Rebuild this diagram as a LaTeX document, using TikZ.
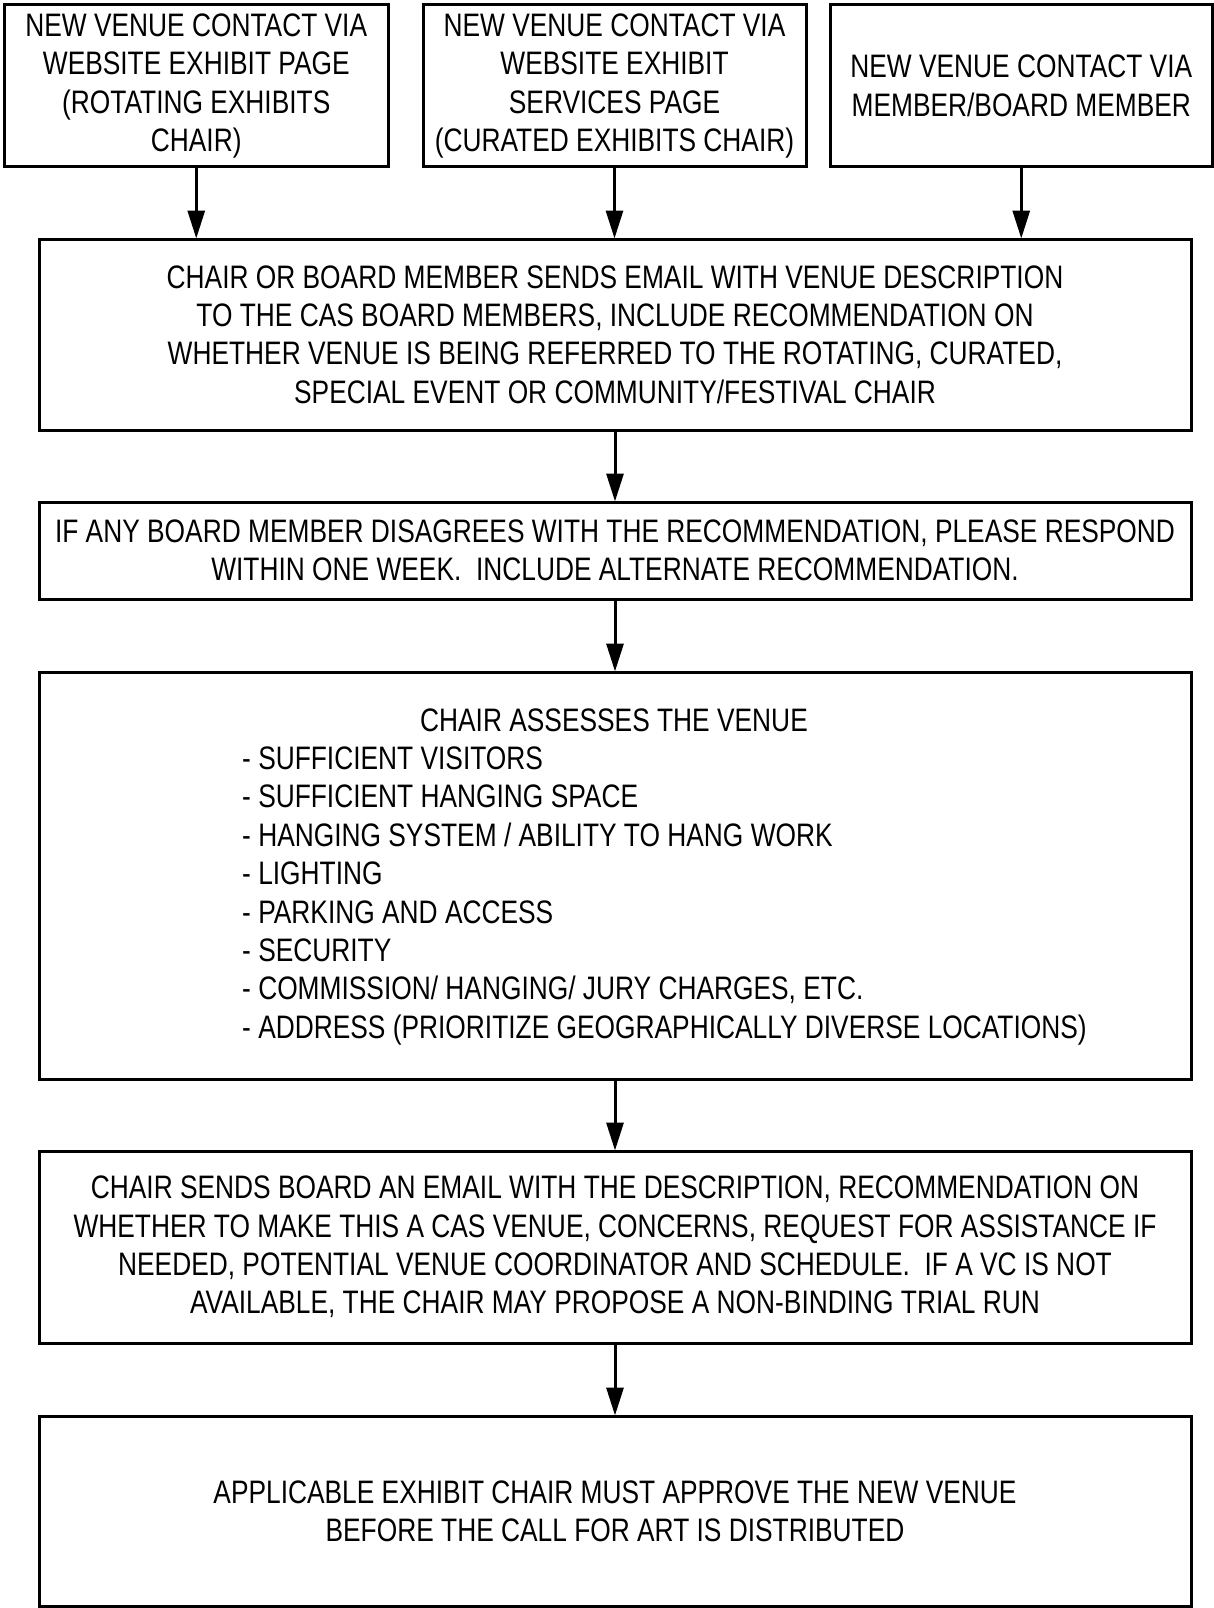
\documentclass[tikz,border=0pt]{standalone}
\usepackage{fontspec}
\setmainfont{Liberation Sans}[FakeStretch=0.81]
\usetikzlibrary{arrows.meta}
\begin{document}
\begin{tikzpicture}[x=1pt,y=-1pt,
  box/.style={draw=black, line width=3pt, rectangle, inner sep=0pt, align=center,
    font=\fontsize{32.5}{38.4}\selectfont},
  txt/.style={inner sep=0pt, font=\fontsize{32.5}{38.4}\selectfont},
  flow/.style={line width=3pt, -{Triangle[length=28pt,width=17pt]}, shorten >=-1pt}]
\useasboundingbox (0,0) rectangle (1214,1608);
\node[box, minimum width=383.5pt, minimum height=162pt] (b1) at (196.25,86)
  {NEW VENUE CONTACT VIA\\WEBSITE EXHIBIT PAGE\\(ROTATING EXHIBITS\\CHAIR)};
\node[box, minimum width=383pt, minimum height=162pt] (b2) at (614.5,86)
  {NEW VENUE CONTACT VIA\\WEBSITE EXHIBIT\\SERVICES PAGE\\(CURATED EXHIBITS CHAIR)};
\node[box, minimum width=382.5pt, minimum height=162pt] (b3) at (1021.25,86)
  {NEW VENUE CONTACT VIA\\MEMBER/BOARD MEMBER};
\node[box, minimum width=1152pt, minimum height=191pt] (a) at (615,334.5)
  {CHAIR OR BOARD MEMBER SENDS EMAIL WITH VENUE DESCRIPTION\\TO THE CAS BOARD MEMBERS, INCLUDE RECOMMENDATION ON\\WHETHER VENUE IS BEING REFERRED TO THE ROTATING, CURATED,\\SPECIAL EVENT OR COMMUNITY/FESTIVAL CHAIR};
\node[box, minimum width=1152pt, minimum height=97pt] (b) at (615,550.5)
  {IF ANY BOARD MEMBER DISAGREES WITH THE RECOMMENDATION, PLEASE RESPOND\\WITHIN ONE WEEK.~~INCLUDE ALTERNATE RECOMMENDATION.};
\node[box, minimum width=1152pt, minimum height=407pt] (c) at (615,875.5) {};
\node[txt, anchor=base] (ctitle) at (614,731) {CHAIR ASSESSES THE VENUE};
\node[txt, anchor=north west, align=left] (clist) at (242,746.5)
  {- SUFFICIENT VISITORS\\- SUFFICIENT HANGING SPACE\\- HANGING SYSTEM / ABILITY TO HANG WORK\\- LIGHTING\\- PARKING AND ACCESS\\- SECURITY\\- COMMISSION/ HANGING/ JURY CHARGES, ETC.\\- ADDRESS (PRIORITIZE GEOGRAPHICALLY DIVERSE LOCATIONS)};
\node[box, minimum width=1152pt, minimum height=192pt] (d) at (615,1247)
  {CHAIR SENDS BOARD AN EMAIL WITH THE DESCRIPTION, RECOMMENDATION ON\\WHETHER TO MAKE THIS A CAS VENUE, CONCERNS, REQUEST FOR ASSISTANCE IF\\NEEDED, POTENTIAL VENUE COORDINATOR AND SCHEDULE.~~IF A VC IS NOT\\AVAILABLE, THE CHAIR MAY PROPOSE A NON-BINDING TRIAL RUN};
\node[box, minimum width=1152pt, minimum height=190.5pt] (e) at (615,1511.25)
  {APPLICABLE EXHIBIT CHAIR MUST APPROVE THE NEW VENUE\\BEFORE THE CALL FOR ART IS DISTRIBUTED};
\draw[flow] (b1.south) -- (b1.south |- a.north);
\draw[flow] (b2.south) -- (b2.south |- a.north);
\draw[flow] (b3.south) -- (b3.south |- a.north);
\draw[flow] (a.south) -- (b.north);
\draw[flow] (b.south) -- (c.north);
\draw[flow] (c.south) -- (d.north);
\draw[flow] (d.south) -- (e.north);
\end{tikzpicture}
\end{document}
